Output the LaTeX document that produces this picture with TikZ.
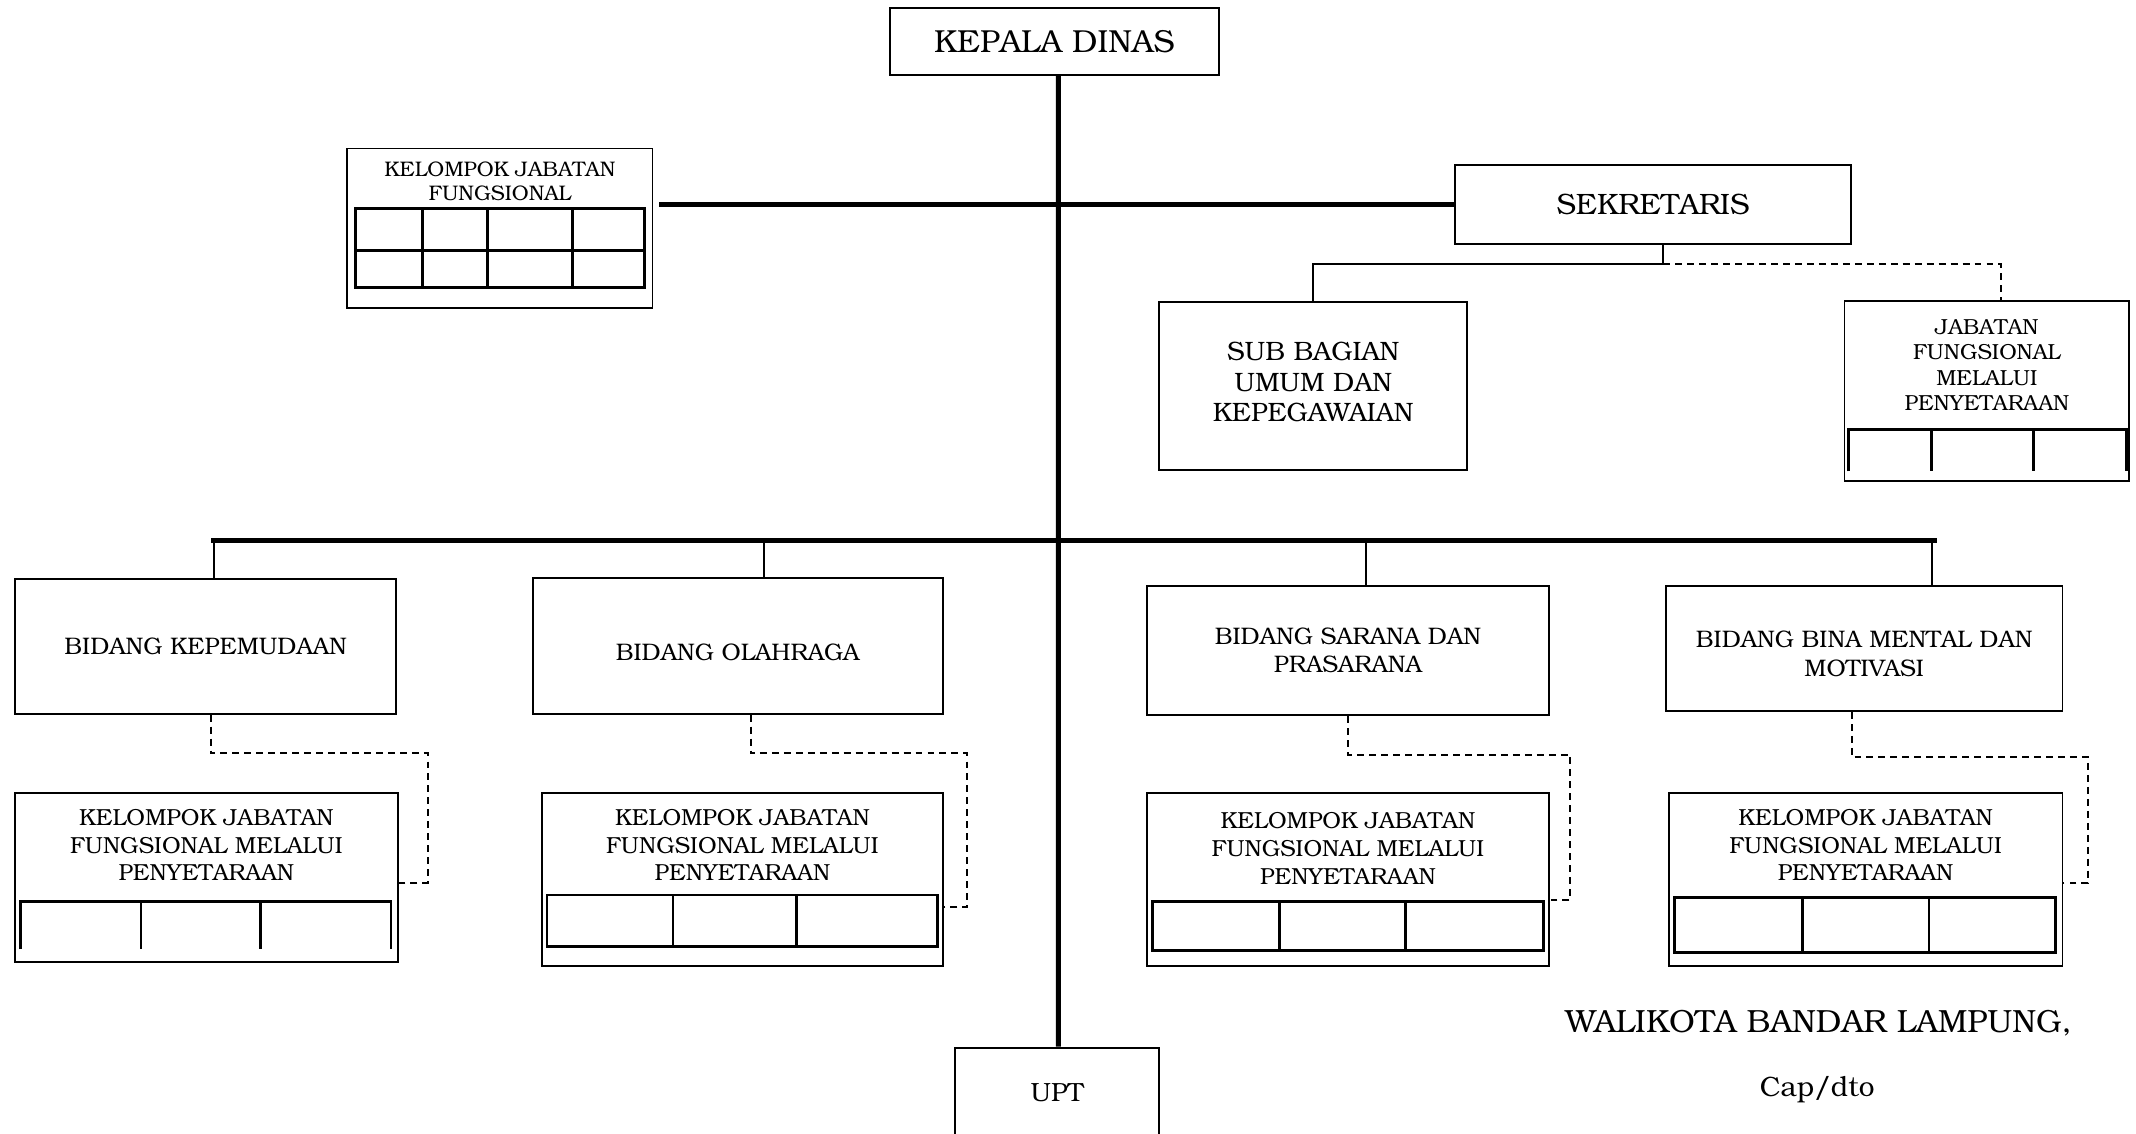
\documentclass[tikz,border=0pt]{standalone}
\usepackage[T1]{fontenc}
\usepackage{bookman}
\usetikzlibrary{positioning}

\begin{document}
\begin{tikzpicture}
				\tikzstyle{every node} = [align=center, inner sep=1pt]
				% Setup the styles for the boxes and the lines
				\tikzset{box style/.style={draw, rectangle, line width=0.8pt},
						 bar line/.style={line width=2.1pt},
						 thin line/.style={line width=0.8pt},
						 dash line/.style={line width=0.8pt, dash pattern=on 2.9pt off 2.1pt},
						 grid line/.style={line width=1.2pt},
						 bidang text/.style={font=\fontsize{10}{11.9}\selectfont},
						 kjf text/.style={font=\fontsize{9.7}{11.6}\selectfont}}
				\useasboundingbox (0,0) rectangle (31.36,-16.64);
				\clip (0,0) rectangle (31.36,-16.64);
				% Draw the boxes
				\node[box style, minimum width=4.84cm, minimum height=0.98cm,
					  font=\fontsize{13.3}{15}\selectfont] at (15.48, -0.61) (kadis) {KEPALA DINAS};
				\node[box style, minimum width=4.48cm, minimum height=2.34cm] at (7.34, -3.35) (kjf) {};
				\node[font=\fontsize{8.8}{10.2}\selectfont, below=0.16cm of kjf.north] (kjft) {KELOMPOK JABATAN\\FUNGSIONAL};
				\node[box style, minimum width=5.82cm, minimum height=1.16cm,
					  font=\fontsize{12.3}{14}\selectfont] at (24.27, -3.00) (sek) {SEKRETARIS};
				\node[box style, minimum width=4.52cm, minimum height=2.46cm] at (19.28, -5.67) (sub) {};
				\node[font=\fontsize{11.1}{12.8}\selectfont] at ([yshift=0.06cm]sub.center) (subt) {SUB BAGIAN\\UMUM DAN\\KEPEGAWAIAN};
				\node[box style, minimum width=4.18cm, minimum height=2.64cm] at (29.17, -5.74) (jab) {};
				\node[font=\fontsize{9.1}{10.6}\selectfont, below=0.24cm of jab.north] (jabt) {JABATAN\\FUNGSIONAL\\MELALUI\\PENYETARAAN};
				\node[box style, bidang text, minimum width=5.60cm, minimum height=1.98cm] at (3.02, -9.49) (kep) {BIDANG KEPEMUDAAN};
				\node[box style, minimum width=6.02cm, minimum height=2.00cm] at (10.83, -9.48) (ola) {};
				\node[bidang text] at ([yshift=-0.10cm]ola.center) (olat) {BIDANG OLAHRAGA};
				\node[box style, bidang text, minimum width=5.90cm, minimum height=1.90cm] at (19.79, -9.55) (sar) {BIDANG SARANA DAN\\PRASARANA};
				\node[box style, minimum width=5.82cm, minimum height=1.84cm] at (27.37, -9.52) (bin) {};
				\node[bidang text] at ([yshift=-0.08cm]bin.center) (bint) {BIDANG BINA MENTAL DAN\\MOTIVASI};
				\node[box style, minimum width=5.62cm, minimum height=2.48cm] at (3.03, -12.88) (kjf1) {};
				\node[box style, minimum width=5.88cm, minimum height=2.54cm] at (10.90, -12.91) (kjf2) {};
				\node[box style, minimum width=5.90cm, minimum height=2.54cm] at (19.79, -12.91) (kjf3) {};
				\node[box style, minimum width=5.78cm, minimum height=2.54cm] at (27.39, -12.91) (kjf4) {};
				\node[kjf text, below=0.21cm of kjf1.north] (kjft1) {KELOMPOK JABATAN\\FUNGSIONAL MELALUI\\PENYETARAAN};
				\node[kjf text, below=0.21cm of kjf2.north] (kjft2) {KELOMPOK JABATAN\\FUNGSIONAL MELALUI\\PENYETARAAN};
				\node[kjf text, below=0.26cm of kjf3.north] (kjft3) {KELOMPOK JABATAN\\FUNGSIONAL MELALUI\\PENYETARAAN};
				\node[kjf text, below=0.21cm of kjf4.north] (kjft4) {KELOMPOK JABATAN\\FUNGSIONAL MELALUI\\PENYETARAAN};
				\node[box style, minimum width=3.00cm, minimum height=1.32cm,
					  font=\fontsize{11}{13}\selectfont] at (15.52, -16.04) (upt) {UPT};
				\node[font=\fontsize{13.4}{15}\selectfont] at (26.70, -15.02) (wali) {WALIKOTA BANDAR LAMPUNG,};
				\node[font=\fontsize{11.7}{13}\selectfont] at (26.68, -16.00) (cap) {Cap/dto};
				% Draw the empty tables inside the boxes
				\draw[grid line] (5.22, -3.06) rectangle (9.46, -4.22);
				\draw[grid line] (5.22, -3.68) -- (9.46, -3.68);
				\foreach \x in {6.20, 7.16, 8.40}
					\draw[grid line] (\x, -3.06) -- (\x, -4.22);
				\draw[grid line] (27.14, -6.92) |- (31.22, -6.30) -- (31.22, -6.92);
				\foreach \x in {28.36, 29.86}
					\draw[grid line] (\x, -6.30) -- (\x, -6.92);
				\draw[grid line] (0.30, -13.94) |- (5.74, -13.23) -- (5.74, -13.94);
				\foreach \x in {2.07, 3.83}
					\draw[grid line] (\x, -13.23) -- (\x, -13.94);
				\draw[grid line] (8.03, -13.14) rectangle (13.76, -13.89);
				\foreach \x in {9.88, 11.70}
					\draw[grid line] (\x, -13.14) -- (\x, -13.89);
				\draw[grid line] (16.92, -13.23) rectangle (22.66, -13.96);
				\foreach \x in {18.78, 20.64}
					\draw[grid line] (\x, -13.23) -- (\x, -13.96);
				\draw[grid line] (24.59, -13.18) rectangle (30.18, -13.99);
				\foreach \x in {26.46, 28.32}
					\draw[grid line] (\x, -13.18) -- (\x, -13.99);
				% Connect the boxes
				\coordinate (bl) at (3.10, -7.94);
				\coordinate (br) at (28.44, -7.94);
				\coordinate (b1) at (3.14, -7.94);
				\coordinate (b2) at (11.22, -7.94);
				\coordinate (b3) at (20.06, -7.94);
				\coordinate (b4) at (28.36, -7.94);
				\draw[bar line] ([xshift=0.06cm]kadis.south) -- ([xshift=0.02cm]upt.north);
				\draw[bar line] (sek.west) -- ([xshift=0.08cm]kjf.east |- sek.west);
				\draw[bar line] (bl) -- (br);
				\draw[thin line] (b1) -- (b1 |- kep.north);
				\draw[thin line] (b2) -- (b2 |- ola.north);
				\draw[thin line] (b3) -- (b3 |- sar.north);
				\draw[thin line] (b4) -- (b4 |- bin.north);
				\draw[thin line] ([xshift=0.15cm]sek.south) -- ++(0, -0.28) coordinate (sj);
				\draw[thin line] (sj) -| (sub.north);
				\draw[dash line] (sj) -| ([xshift=0.21cm]jab.north);
				\draw[dash line] ([xshift=0.08cm]kep.south) |- (6.28, -11.06) |- ([yshift=-0.08cm]kjf1.east);
				\draw[dash line] ([xshift=0.19cm]ola.south) |- (14.20, -11.06) |- ([yshift=-0.41cm]kjf2.east);
				\draw[dash line] (sar.south) |- (23.05, -11.08) |- ([yshift=-0.31cm]kjf3.east);
				\draw[dash line] ([xshift=-0.18cm]bin.south) |- (30.66, -11.12) |- ([yshift=-0.05cm]kjf4.east);
			\end{tikzpicture}
\end{document}
